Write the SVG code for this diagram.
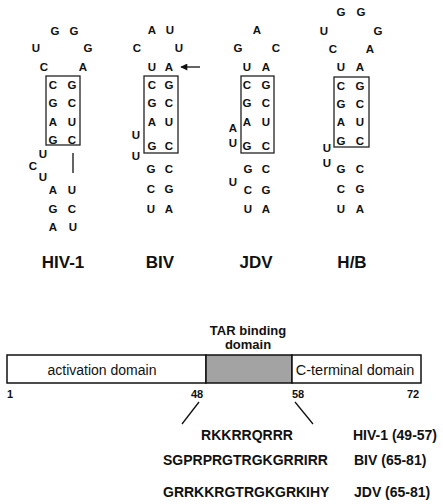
<svg xmlns="http://www.w3.org/2000/svg" width="443" height="504" viewBox="0 0 443 504">
<style>
text{font-family:"Liberation Sans",Arial,sans-serif;fill:#111;}
.n{font-size:11.5px;font-weight:bold;text-anchor:middle;}
.lab{font-size:17px;font-weight:bold;text-anchor:middle;}
.box{fill:none;stroke:#222;stroke-width:1.3;}
.dom{font-size:14px;text-anchor:middle;}
.num{font-size:11px;font-weight:bold;text-anchor:middle;}
.seq{font-size:14px;font-weight:bold;}
.tar{font-size:13px;font-weight:bold;text-anchor:middle;}
.ln{stroke:#111;stroke-width:1.3;fill:none;}
</style>
<defs>
<marker id="ah" viewBox="0 0 10 10" refX="9" refY="5" markerWidth="10" markerHeight="7" markerUnits="userSpaceOnUse" orient="auto">
<path d="M0,0 L10,5 L0,10 Z" fill="#111"/>
</marker>
</defs>
<rect width="443" height="504" fill="#fff"/>

<g id="hiv1">
<text class="n" x="55" y="35">G</text><text class="n" x="74" y="35">G</text>
<text class="n" x="36" y="52">U</text><text class="n" x="88" y="52">G</text>
<text class="n" x="44" y="71">C</text><text class="n" x="83" y="71">A</text>
<rect class="box" x="46" y="76" width="34" height="69"/>
<text class="n" x="53" y="89">C</text><text class="n" x="72" y="89">G</text>
<text class="n" x="53" y="107">G</text><text class="n" x="72" y="107">C</text>
<text class="n" x="53" y="126">A</text><text class="n" x="72" y="126">U</text>
<text class="n" x="53" y="144">G</text><text class="n" x="72" y="144">C</text>
<text class="n" x="43" y="158">U</text>
<text class="n" x="33" y="170">C</text>
<text class="n" x="43" y="181">U</text>
<text class="n" x="53" y="194">A</text><text class="n" x="72" y="194">U</text>
<text class="n" x="53" y="213">G</text><text class="n" x="72" y="213">C</text>
<text class="n" x="53" y="231">A</text><text class="n" x="73" y="231">U</text>
<text class="lab" x="63" y="268">HIV-1</text>
</g>

<g id="biv">
<text class="n" x="152" y="34">A</text><text class="n" x="170" y="34">U</text>
<text class="n" x="137" y="52">C</text><text class="n" x="179" y="52">U</text>
<text class="n" x="152" y="71">U</text><text class="n" x="169" y="71">A</text>
<rect class="box" x="144" y="76" width="34" height="77"/>
<text class="n" x="152" y="89">C</text><text class="n" x="169" y="89">G</text>
<text class="n" x="152" y="107">G</text><text class="n" x="169" y="107">C</text>
<text class="n" x="152" y="126">A</text><text class="n" x="169" y="126">U</text>
<text class="n" x="152" y="150">G</text><text class="n" x="169" y="150">C</text>
<text class="n" x="136" y="139">U</text>
<text class="n" x="136" y="160">U</text>
<text class="n" x="151" y="173">G</text><text class="n" x="169" y="173">C</text>
<text class="n" x="151" y="193">C</text><text class="n" x="169" y="193">G</text>
<text class="n" x="151" y="213">U</text><text class="n" x="169" y="213">A</text>
<text class="lab" x="160" y="268">BIV</text>
</g>

<g id="jdv">
<text class="n" x="257" y="34">A</text>
<text class="n" x="238" y="52">G</text><text class="n" x="276" y="52">C</text>
<text class="n" x="247" y="71">U</text><text class="n" x="266" y="71">A</text>
<rect class="box" x="241" y="76" width="33" height="77"/>
<text class="n" x="247" y="89">C</text><text class="n" x="266" y="89">G</text>
<text class="n" x="247" y="107">G</text><text class="n" x="266" y="107">C</text>
<text class="n" x="247" y="126">A</text><text class="n" x="266" y="126">U</text>
<text class="n" x="247" y="150">G</text><text class="n" x="266" y="150">C</text>
<text class="n" x="233" y="132">A</text>
<text class="n" x="233" y="147">U</text>
<text class="n" x="248" y="173">G</text><text class="n" x="266" y="173">C</text>
<text class="n" x="233" y="186">U</text>
<text class="n" x="248" y="194">C</text><text class="n" x="266" y="194">G</text>
<text class="n" x="248" y="213">U</text><text class="n" x="266" y="213">A</text>
<text class="lab" x="256" y="268">JDV</text>
</g>

<g id="hb">
<text class="n" x="341" y="16">G</text><text class="n" x="361" y="16">G</text>
<text class="n" x="324" y="35">U</text><text class="n" x="378" y="35">G</text>
<text class="n" x="333" y="53">C</text><text class="n" x="370" y="53">A</text>
<text class="n" x="341" y="71">U</text><text class="n" x="360" y="71">A</text>
<rect class="box" x="334" y="77" width="35" height="70"/>
<text class="n" x="341" y="90">C</text><text class="n" x="360" y="90">G</text>
<text class="n" x="341" y="108">G</text><text class="n" x="360" y="108">C</text>
<text class="n" x="341" y="126">A</text><text class="n" x="360" y="126">U</text>
<text class="n" x="341" y="145">G</text><text class="n" x="360" y="145">C</text>
<text class="n" x="327" y="152">U</text>
<text class="n" x="327" y="167">U</text>
<text class="n" x="341" y="173">G</text><text class="n" x="360" y="173">C</text>
<text class="n" x="341" y="193">C</text><text class="n" x="360" y="193">G</text>
<text class="n" x="341" y="213">U</text><text class="n" x="360" y="213">A</text>
<text class="lab" x="352" y="268">H/B</text>
</g>

<g id="tat-bar">
<rect x="7" y="355" width="199" height="28" fill="#fff" stroke="#111" stroke-width="1.5"/>
<rect x="206" y="355" width="86" height="28" fill="#a3a3a3" stroke="#111" stroke-width="1.5"/>
<rect x="292" y="355" width="129" height="28" fill="#fff" stroke="#111" stroke-width="1.5"/>
<text class="dom" x="102" y="375">activation domain</text>
<text class="dom" x="355" y="375" style="font-size:14.5px">C-terminal domain</text>
<text class="tar" x="248" y="335">TAR binding</text>
<text class="tar" x="248" y="349">domain</text>
<text class="num" x="10" y="398">1</text>
<text class="num" x="197" y="398">48</text>
<text class="num" x="298" y="398">58</text>
<text class="num" x="413" y="398">72</text>
</g>

<g id="sequences">
<text class="seq" x="247" y="440" text-anchor="middle">RKKRRQRRR</text>
<text class="seq" x="353" y="440">HIV-1 (49-57)</text>
<text class="seq" x="163" y="465">SGPRPRGTRGKGRRIRR</text>
<text class="seq" x="354" y="465">BIV (65-81)</text>
<text class="seq" x="163" y="497">GRRKKRGTRGKGRKIHY</text>
<text class="seq" x="354" y="497">JDV (65-81)</text>
</g>

<g id="connectors">
<line class="ln" x1="73" y1="153" x2="73" y2="173"/>
<line class="ln" x1="200" y1="67" x2="181" y2="67" marker-end="url(#ah)"/>
<line class="ln" x1="199" y1="402" x2="182" y2="424"/>
<line class="ln" x1="295" y1="402" x2="313" y2="424"/>
</g>
</svg>
